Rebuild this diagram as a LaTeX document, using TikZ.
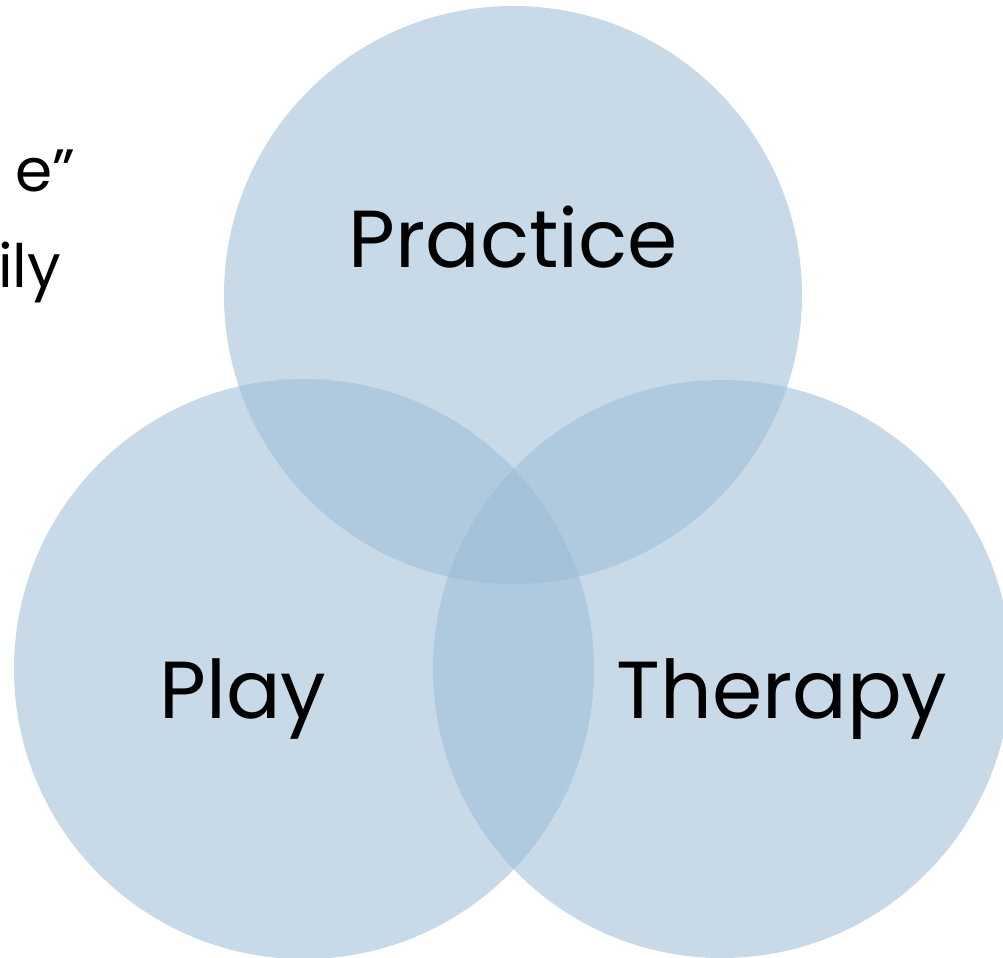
\documentclass[tikz,border=0pt]{standalone}
\usepackage{fontspec}
\setmainfont{Poppins}
\definecolor{vennblue}{RGB}{154,187,213}
\tikzset{
  venn/.style = {fill = vennblue, fill opacity = 0.55},
  big/.style = {font = \fontsize{23}{28}\selectfont, text = black, anchor = base},
  side/.style = {font = \fontsize{17}{21}\selectfont, text = black, inner sep = 0pt}
}
\begin{document}
\begin{tikzpicture}[x = 0.01cm, y = -0.01cm]
            \useasboundingbox (0,0) rectangle (1003,958);
            \begin{scope}
                \clip (0,0) rectangle (1003,958);
                \fill[venn] (513,295) circle[radius = 289];
                \fill[venn] (304,669) circle[radius = 290];
                \fill[venn] (722,669) circle[radius = 289];
            \end{scope}
            \node[big] (practice) at (513,268) {Practice};
            \node[big] (play) at (243,718) {Play};
            \node[big] (therapy) at (782,718) {Therapy};
            \node[side, anchor = base east] (quote) at (76,192) {e”};
            \node[side, anchor = base east] (family) at (62,288) {ily};
        \end{tikzpicture}
\end{document}
